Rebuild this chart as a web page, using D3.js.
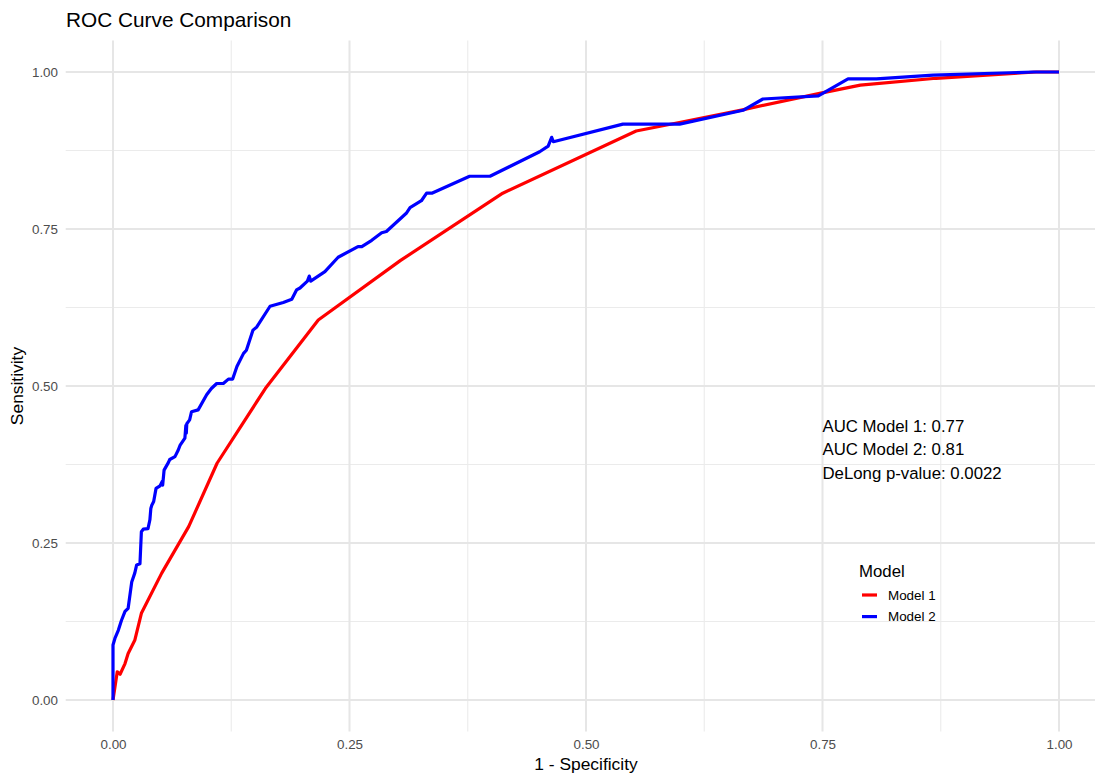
<!DOCTYPE html>
<html>
<head>
<meta charset="utf-8">
<script src="https://cdn.jsdelivr.net/npm/d3@7"></script>
<style>
  html, body { margin: 0; padding: 0; background: #ffffff; }
  svg { display: block; font-family: "Liberation Sans", Arial, Helvetica, sans-serif; }
</style>
</head>
<body>
<svg id="chart" width="1095" height="774"></svg>
<script>
// ROC coordinates for the two models (false positive rate, true positive rate)
const fpr1 = [0, 0.0045, 0.0075, 0.0127, 0.016, 0.023, 0.030, 0.0515, 0.080, 0.110, 0.161, 0.217,
              0.304, 0.412, 0.553, 0.600, 0.663, 0.747, 0.790, 0.870, 0.976, 1];
const tpr1 = [0, 0.045, 0.041, 0.058, 0.074, 0.095, 0.138, 0.202, 0.276, 0.377, 0.496, 0.605,
              0.700, 0.807, 0.906, 0.920, 0.939, 0.966, 0.979, 0.990, 1.0, 1];

const fpr2 = [0, 0, 0.002, 0.0056, 0.009, 0.0127, 0.016, 0.0198, 0.023, 0.025, 0.0285, 0.030, 0.032,
              0.037, 0.039, 0.040, 0.041, 0.043, 0.0455, 0.0497, 0.052, 0.0525, 0.054, 0.0585, 0.060,
              0.0655, 0.069, 0.071, 0.076, 0.077, 0.0775, 0.078, 0.081, 0.083, 0.090, 0.099, 0.104,
              0.1096, 0.1166, 0.122, 0.1265, 0.131, 0.138, 0.141, 0.148, 0.152, 0.166, 0.180, 0.189,
              0.194, 0.1977, 0.2055, 0.2075, 0.209, 0.224, 0.238, 0.259, 0.263, 0.2735, 0.284, 0.289,
              0.310, 0.314, 0.326, 0.3315, 0.337, 0.377, 0.3985, 0.451, 0.460, 0.4637, 0.4655, 0.539,
              0.599, 0.666, 0.687, 0.7456, 0.777, 0.807, 0.867, 0.973, 1];
const tpr2 = [0, 0.0875, 0.098, 0.111, 0.127, 0.141, 0.146, 0.188, 0.202, 0.215, 0.217, 0.268, 0.272,
              0.273, 0.287, 0.305, 0.31, 0.316, 0.337, 0.341, 0.348, 0.342, 0.366, 0.378, 0.383,
              0.3875, 0.398, 0.406, 0.417, 0.437, 0.425, 0.440, 0.446, 0.459, 0.462, 0.486, 0.496,
              0.504, 0.504, 0.511, 0.511, 0.531, 0.552, 0.557, 0.589, 0.594, 0.627, 0.633, 0.638,
              0.653, 0.656, 0.667, 0.675, 0.667, 0.682, 0.705, 0.722, 0.722, 0.732, 0.744, 0.746,
              0.775, 0.784, 0.795, 0.807, 0.807, 0.834, 0.834, 0.873, 0.882, 0.896, 0.889, 0.917,
              0.917, 0.939, 0.957, 0.962, 0.989, 0.989, 0.995, 1.0, 1];

const seriesNames = ["Model 1", "Model 2"];
const seriesColors = ["#ff0000", "#0000ff"];
const tickValues = [0, 0.25, 0.5, 0.75, 1];
const tickLabels = ["0.00", "0.25", "0.50", "0.75", "1.00"];
const minorTicks = [0.125, 0.375, 0.625, 0.875];
const annotationLines = ["AUC Model 1: 0.77", "AUC Model 2: 0.81", "DeLong p-value: 0.0022"];

const svg = d3.select("#chart");

// Panel: data range expanded by 5% on each side
const x = d3.scaleLinear().domain([-0.05, 1.05]).range([65.7, 1106.3]);
const y = d3.scaleLinear().domain([-0.05, 1.05]).range([731.4, 40.6]);

const grid = svg.append("g");
// minor grid
grid.selectAll(".vminor").data(minorTicks).join("line")
  .attr("x1", d => x(d)).attr("x2", d => x(d))
  .attr("y1", y(-0.05)).attr("y2", y(1.05))
  .attr("stroke", "#ebebeb").attr("stroke-width", 1.1);
grid.selectAll(".hminor").data(minorTicks).join("line")
  .attr("x1", x(-0.05)).attr("x2", x(1.05))
  .attr("y1", d => y(d)).attr("y2", d => y(d))
  .attr("stroke", "#ebebeb").attr("stroke-width", 1.1);
// major grid
grid.selectAll(".vmajor").data(tickValues).join("line")
  .attr("x1", d => x(d)).attr("x2", d => x(d))
  .attr("y1", y(-0.05)).attr("y2", y(1.05))
  .attr("stroke", "#e6e6e6").attr("stroke-width", 2);
grid.selectAll(".hmajor").data(tickValues).join("line")
  .attr("x1", x(-0.05)).attr("x2", x(1.05))
  .attr("y1", d => y(d)).attr("y2", d => y(d))
  .attr("stroke", "#e6e6e6").attr("stroke-width", 2);

// axes (labels only, theme_minimal style)
const xAxis = d3.axisBottom(x).tickValues(tickValues)
  .tickFormat((d, i) => tickLabels[i]).tickSize(0).tickPadding(0);
const gx = svg.append("g").attr("transform", "translate(0,736)").call(xAxis);
gx.select(".domain").remove();
gx.selectAll("text").attr("dy", "0.71em").attr("y", 3.5)
  .style("font-size", "13.4px").style("fill", "#4d4d4d")
  .style("font-family", "'Liberation Sans', Arial, sans-serif");

const yAxis = d3.axisLeft(y).tickValues(tickValues)
  .tickFormat((d, i) => tickLabels[i]).tickSize(0).tickPadding(0);
const gy = svg.append("g").attr("transform", "translate(58,0)").call(yAxis);
gy.select(".domain").remove();
gy.selectAll("text").attr("dy", "0.35em").attr("x", 0)
  .style("font-size", "13.4px").style("fill", "#4d4d4d")
  .style("font-family", "'Liberation Sans', Arial, sans-serif");

// curves
const line = d3.line().x(d => x(d[0])).y(d => y(d[1]));
const series = [
  d3.zip(fpr1, tpr1),
  d3.zip(fpr2, tpr2)
];
svg.append("g").selectAll("path").data(series).join("path")
  .attr("d", line)
  .attr("fill", "none")
  .attr("stroke", (d, i) => seriesColors[i])
  .attr("stroke-width", 3.2)
  .attr("stroke-linejoin", "round")
  .attr("stroke-linecap", "butt");

// annotation
svg.append("g").selectAll("text").data(annotationLines).join("text")
  .attr("x", x(0.75))
  .attr("y", (d, i) => 431.5 + i * 23.6)
  .style("font-size", "16.8px").style("fill", "#000000")
  .text(d => d);

// title and axis titles
svg.append("text").attr("x", 66).attr("y", 27)
  .style("font-size", "20.8px").style("fill", "#000000")
  .text("ROC Curve Comparison");
svg.append("text").attr("x", x(0.5)).attr("y", 770)
  .attr("text-anchor", "middle")
  .style("font-size", "17.4px").style("fill", "#000000")
  .text("1 - Specificity");
svg.append("text")
  .attr("transform", `translate(23,${y(0.5)}) rotate(-90)`)
  .attr("text-anchor", "middle")
  .style("font-size", "17.4px").style("fill", "#000000")
  .text("Sensitivity");

// legend
const legend = svg.append("g").attr("transform", "translate(859,0)");
legend.append("text").attr("x", 0).attr("y", 577)
  .style("font-size", "16.8px").style("fill", "#000000")
  .text("Model");
const items = legend.selectAll(".item").data(seriesNames).join("g")
  .attr("transform", (d, i) => `translate(0,${595 + i * 21.6})`);
items.append("line")
  .attr("x1", 3).attr("x2", 18).attr("y1", 0).attr("y2", 0)
  .attr("stroke", (d, i) => seriesColors[i]).attr("stroke-width", 3.2);
items.append("text").attr("x", 29).attr("y", 0).attr("dy", "0.35em")
  .style("font-size", "13.4px").style("fill", "#000000")
  .text(d => d);
</script>
</body>
</html>
